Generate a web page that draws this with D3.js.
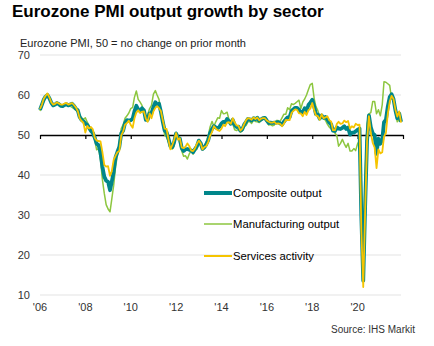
<!DOCTYPE html>
<html>
<head>
<meta charset="utf-8">
<script src="https://cdn.jsdelivr.net/npm/d3@7"></script>
<style>
  body { margin: 0; background: #fff; }
  svg { display: block; font-family: Arial, "Liberation Sans", sans-serif; }
</style>
</head>
<body>
<div id="chart"></div>
<script>
/* =========================
   DATA (monthly, Jan 2006 - Dec 2021)
   ========================= */

const START_YEAR = 2006;

const composite = [
  56.3, 57.6, 58.8, 59.6, 60.0, 59.2, 58.1, 57.4, 57.6, 58.0, 57.7, 57.3,
  57.2, 57.5, 57.7, 57.4, 57.6, 57.8, 57.3, 56.6, 56.2, 54.5, 53.8, 53.4,
  52.9, 52.5, 51.8, 51.0, 50.5, 49.3, 47.8, 47.5, 45.6, 42.1, 39.6, 38.6,
  38.3, 36.2, 38.3, 40.8, 44.4, 45.8, 47.0, 50.4, 51.1, 53.0, 53.7, 53.6,
  53.7, 54.1, 55.9, 57.3, 56.4, 56.0, 56.7, 56.2, 53.8, 53.8, 55.4, 55.5,
  57.0, 58.2, 57.6, 57.8, 55.8, 53.3, 51.1, 50.7, 49.1, 47.2, 47.0, 48.3,
  50.4, 49.3, 49.1, 46.7, 46.0, 46.4, 46.5, 46.3, 46.1, 45.7, 46.5, 47.2,
  48.6, 47.9, 46.5, 46.9, 47.7, 48.7, 50.5, 51.5, 52.2, 51.9, 51.7, 52.1,
  52.9, 53.3, 53.1, 54.0, 53.5, 52.8, 53.8, 52.5, 52.0, 52.1, 51.1, 51.4,
  52.6, 53.3, 54.0, 53.9, 53.6, 54.2, 53.9, 54.3, 53.6, 53.9, 54.2, 54.3,
  53.6, 53.0, 53.1, 53.0, 53.1, 53.1, 53.2, 52.9, 52.6, 53.3, 53.9, 54.4,
  54.4, 56.0, 56.4, 56.8, 56.8, 56.3, 55.7, 55.7, 56.7, 56.0, 57.5, 58.1,
  58.8, 57.1, 55.2, 55.1, 54.1, 54.9, 54.3, 54.5, 53.9, 53.1, 52.7, 51.1,
  51.0, 51.9, 51.6, 51.5, 51.8, 52.2, 51.5, 51.9, 50.1, 50.6, 50.6, 50.9,
  51.3, 51.6, 29.7, 13.6, 31.9, 48.5, 54.9, 51.9, 50.4, 50.0, 45.3, 49.1,
  47.8, 48.8, 53.2, 53.8, 57.1, 59.5, 60.2, 59.0, 56.2, 54.2, 55.4, 53.3
];

const manufacturing = [
  56.0, 57.2, 58.3, 59.2, 60.2, 59.0, 57.8, 57.2, 57.6, 58.0, 57.6, 57.3,
  57.4, 57.4, 57.8, 57.6, 57.2, 56.9, 56.6, 56.2, 55.8, 55.0, 54.3, 53.9,
  54.3, 53.2, 52.3, 51.3, 50.1, 48.7, 46.3, 46.6, 43.8, 38.9, 35.4, 32.6,
  31.5, 30.8, 33.9, 37.4, 42.0, 45.0, 48.4, 51.6, 52.6, 54.2, 54.8, 55.5,
  56.6, 56.9, 59.4, 61.0, 58.9, 58.2, 57.4, 55.7, 54.3, 55.1, 56.6, 57.4,
  60.2, 61.1, 60.0, 58.9, 55.7, 52.8, 50.0, 49.4, 48.1, 46.6, 46.5, 47.2,
  49.9, 49.8, 47.7, 46.0, 44.7, 44.8, 44.0, 45.3, 46.1, 45.2, 46.2, 46.4,
  48.1, 47.9, 46.8, 46.7, 48.3, 49.8, 52.0, 53.4, 52.2, 53.3, 54.3, 54.2,
  56.1, 55.3, 55.4, 55.7, 53.9, 52.8, 52.8, 51.3, 51.1, 51.5, 50.7, 51.0,
  52.1, 52.4, 53.3, 53.4, 52.9, 53.7, 53.4, 53.3, 53.1, 53.6, 53.9, 54.1,
  53.3, 52.5, 52.6, 52.3, 52.5, 53.6, 53.6, 53.4, 54.3, 55.2, 55.2, 56.8,
  56.3, 57.8, 57.6, 57.9, 58.3, 58.7, 56.6, 58.2, 59.0, 60.0, 61.4, 62.6,
  62.9, 59.1, 57.1, 56.1, 54.6, 54.4, 54.1, 53.7, 52.7, 52.0, 51.5, 51.0,
  50.5, 49.8, 47.2, 47.9, 48.9, 47.8, 46.9, 47.9, 46.0, 46.0, 46.6, 46.1,
  47.8, 48.7, 38.5, 16.0, 39.6, 52.7, 55.3, 55.6, 58.4, 58.4, 55.3, 56.3,
  54.8, 57.6, 63.3, 63.2, 62.8, 62.4, 59.0, 59.0, 55.6, 53.3, 53.8, 53.8
];

const services = [
  56.5, 57.6, 59.0, 59.8, 60.4, 59.4, 58.2, 57.6, 57.8, 58.2, 57.9, 57.6,
  57.6, 57.9, 58.0, 57.6, 57.8, 58.0, 57.5, 56.9, 56.0, 54.2, 53.5, 53.1,
  50.6, 52.3, 51.6, 52.0, 51.4, 49.3, 48.6, 48.5, 48.4, 45.8, 42.5, 42.1,
  42.2, 39.8, 40.9, 43.8, 44.8, 45.7, 46.0, 49.9, 50.9, 52.6, 53.0, 53.6,
  52.5, 51.8, 54.1, 55.6, 56.2, 55.5, 55.8, 55.9, 54.1, 53.3, 55.4, 54.2,
  55.9, 56.8, 57.2, 56.7, 56.0, 53.7, 51.6, 51.5, 48.8, 46.4, 47.5, 48.8,
  50.5, 48.8, 49.2, 46.9, 46.7, 47.1, 47.9, 47.2, 46.1, 46.0, 46.7, 47.8,
  48.6, 47.9, 46.4, 47.0, 47.2, 48.3, 49.8, 50.7, 52.2, 51.6, 51.2, 51.0,
  51.6, 52.6, 52.2, 53.1, 53.2, 52.8, 54.2, 53.1, 52.4, 52.3, 51.1, 51.6,
  52.7, 53.7, 54.2, 54.1, 53.8, 54.4, 54.0, 54.4, 53.7, 54.1, 54.2, 54.2,
  53.6, 53.3, 53.1, 53.1, 53.3, 52.8, 52.9, 52.8, 52.2, 52.8, 53.8, 53.7,
  53.7, 55.5, 56.0, 56.4, 56.3, 55.4, 55.4, 54.7, 55.8, 55.0, 56.2, 56.6,
  58.0, 56.2, 54.9, 54.7, 53.8, 55.2, 54.2, 54.4, 54.7, 53.7, 53.4, 51.2,
  51.2, 52.8, 53.3, 52.8, 52.9, 53.6, 53.2, 53.5, 51.6, 52.2, 51.9, 52.8,
  52.5, 52.6, 26.4, 12.0, 30.5, 48.3, 54.7, 50.5, 48.0, 46.9, 41.7, 46.4,
  45.4, 45.7, 49.6, 50.5, 55.2, 58.3, 59.8, 59.0, 56.4, 54.6, 55.9, 53.1
];

const yTicks = [10, 20, 30, 40, 50, 60, 70];
const xTickYears = [2006, 2008, 2010, 2012, 2014, 2016, 2018, 2020, 2022];
const xTickLabels = ["'06", "'08", "'10", "'12", "'14", "'16", "'18", "'20", ""];

const seriesNames = ["Composite output", "Manufacturing output", "Services activity"];

/* =========================
   CONFIGURATION
   ========================= */

const WIDTH = 434;
const HEIGHT = 346;
const COLORS = {
  comp: "#00868a",
  mfg: "#8cc63f",
  serv: "#f5c400"
};

const svg = d3.select("#chart")
  .append("svg")
  .attr("width", WIDTH)
  .attr("height", HEIGHT);

svg.append("rect")
  .attr("width", WIDTH)
  .attr("height", HEIGHT)
  .attr("fill", "#fff");

/* =========================
   SCALES
   ========================= */

const x = d3.scaleTime()
  .domain([new Date(2006, 0, 1), new Date(2022, 0, 1)])
  .range([40, 403]);

const y = d3.scaleLinear()
  .domain([10, 70])
  .range([295, 55]);

const monthDate = i => new Date(START_YEAR, i, 1);

/* =========================
   TITLES
   ========================= */

svg.append("text")
  .attr("x", 12)
  .attr("y", 17)
  .attr("font-size", 17)
  .attr("font-weight", "bold")
  .attr("fill", "#000")
  .text("Eurozone PMI output growth by sector");

svg.append("text")
  .attr("x", 20)
  .attr("y", 47)
  .attr("font-size", 11)
  .attr("fill", "#222")
  .text("Eurozone PMI, 50 = no change on prior month");

/* =========================
   GRID & AXES
   ========================= */

svg.append("g")
  .selectAll("line")
  .data(yTicks.filter(d => d !== 50))
  .enter()
  .append("line")
  .attr("x1", 40)
  .attr("x2", 401)
  .attr("y1", d => y(d))
  .attr("y2", d => y(d))
  .attr("stroke", "#e3e3e3")
  .attr("stroke-width", 1);

svg.append("g")
  .selectAll("text")
  .data(yTicks)
  .enter()
  .append("text")
  .attr("x", 30)
  .attr("y", d => y(d))
  .attr("dy", "0.35em")
  .attr("text-anchor", "end")
  .attr("font-size", 11)
  .attr("fill", "#333")
  .text(d => d);

// 50 line with ticks
const xAxis = d3.axisBottom(x)
  .tickValues(xTickYears.map(yr => new Date(yr, 0, 1)))
  .tickSize(4)
  .tickSizeOuter(0)
  .tickFormat("");

const gx = svg.append("g")
  .attr("transform", `translate(0,${y(50)})`)
  .call(xAxis);
gx.select(".domain").attr("stroke", "#000").attr("stroke-width", 1.4);
gx.selectAll(".tick line").attr("stroke", "#000").attr("stroke-width", 1.2);

svg.append("g")
  .selectAll("text")
  .data(xTickYears)
  .enter()
  .append("text")
  .attr("x", d => x(new Date(d, 0, 1)))
  .attr("y", 311)
  .attr("text-anchor", "middle")
  .attr("font-size", 11)
  .attr("fill", "#333")
  .text((d, i) => xTickLabels[i]);

/* =========================
   LINES
   ========================= */

const line = d3.line()
  .x((d, i) => x(monthDate(i)))
  .y(d => y(d));

const lines = [
  { data: manufacturing, color: COLORS.mfg, width: 1.5 },
  { data: composite, color: COLORS.comp, width: 3.8 },
  { data: services, color: COLORS.serv, width: 1.8 }
];

lines.forEach(s => {
  svg.append("path")
    .datum(s.data)
    .attr("d", line)
    .attr("fill", "none")
    .attr("stroke", s.color)
    .attr("stroke-width", s.width)
    .attr("stroke-linejoin", "round");
});

/* =========================
   LEGEND
   ========================= */

const legend = [
  { name: seriesNames[0], color: COLORS.comp, width: 4, y: 193 },
  { name: seriesNames[1], color: COLORS.mfg, width: 1.5, y: 224 },
  { name: seriesNames[2], color: COLORS.serv, width: 2, y: 256 }
];

const gLeg = svg.append("g");
legend.forEach(l => {
  gLeg.append("line")
    .attr("x1", 204)
    .attr("x2", 232)
    .attr("y1", l.y)
    .attr("y2", l.y)
    .attr("stroke", l.color)
    .attr("stroke-width", l.width);
  gLeg.append("text")
    .attr("x", 233)
    .attr("y", l.y)
    .attr("dy", "0.35em")
    .attr("font-size", 11.3)
    .attr("fill", "#000")
    .text(l.name);
});

/* =========================
   SOURCE
   ========================= */

svg.append("text")
  .attr("x", 415)
  .attr("y", 333)
  .attr("text-anchor", "end")
  .attr("font-size", 10)
  .attr("fill", "#333")
  .text("Source: IHS Markit");
</script>
</body>
</html>
